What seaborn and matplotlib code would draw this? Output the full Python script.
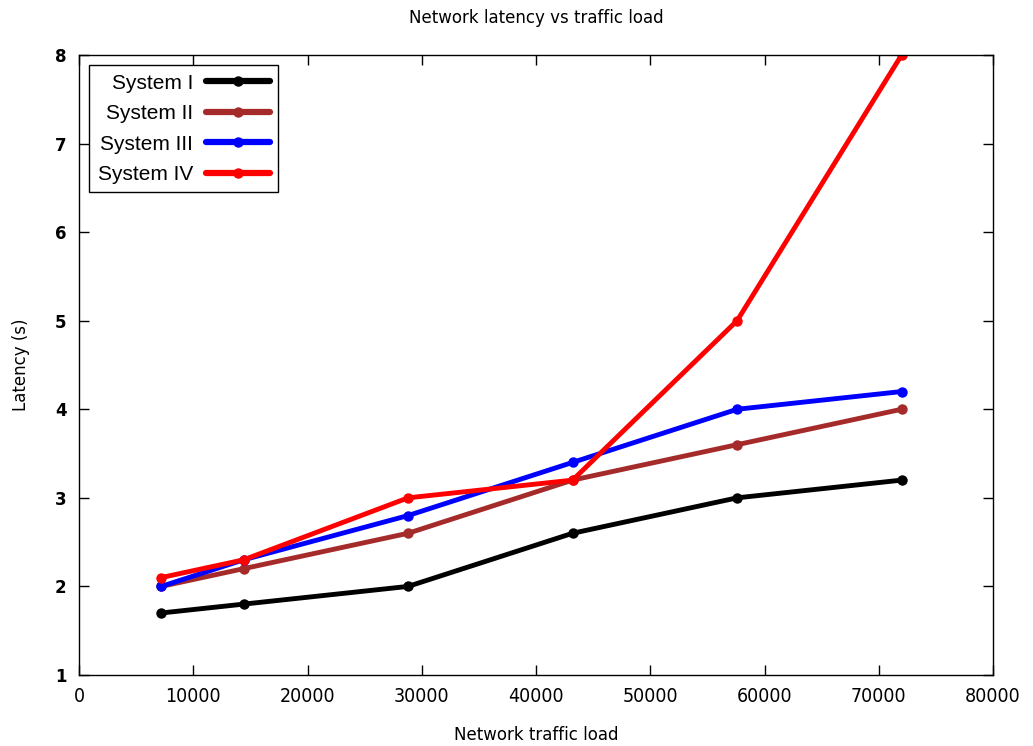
import matplotlib
matplotlib.use("Agg")
import matplotlib.pyplot as plt
import seaborn as sns
import pandas as pd

traffic = [7200, 14400, 28800, 43200, 57600, 72000]
system_1 = [1.7, 1.8, 2.0, 2.6, 3.0, 3.2]
system_2 = [2.0, 2.2, 2.6, 3.2, 3.6, 4.0]
system_3 = [2.0, 2.3, 2.8, 3.4, 4.0, 4.2]
system_4 = [2.1, 2.3, 3.0, 3.2, 5.0, 8.0]
series_names = ["System I", "System II", "System III", "System IV"]
series_colors = ["#000000", "#a52a2a", "#0000ff", "#ff0000"]
x_ticks = [0, 10000, 20000, 30000, 40000, 50000, 60000, 70000, 80000]
y_ticks = [1, 2, 3, 4, 5, 6, 7, 8]

sns.set_theme(style="ticks")
plt.rcParams['font.family'] = ['DejaVu Sans']
plt.rcParams['text.color'] = 'black'
plt.rcParams['axes.labelcolor'] = 'black'

rows = []
for name, vals in zip(series_names, [system_1, system_2, system_3, system_4]):
    for xv, yv in zip(traffic, vals):
        rows.append({"load": xv, "latency": yv, "system": name})
df = pd.DataFrame(rows)

fig = plt.figure(figsize=(10.33, 7.46), dpi=100)
ax = fig.add_axes([0.0765, 0.0952, 0.8848, 0.8311])

sns.lineplot(data=df, x="load", y="latency", hue="system", hue_order=series_names,
             palette=series_colors, marker="o", markersize=7.5, markeredgewidth=0,
             linewidth=3.5, ax=ax, sort=False)

ax.set_xlim(0, 80000)
ax.set_ylim(1, 8)
ax.set_xticks(x_ticks)
ax.set_yticks(y_ticks)
ax.set_xticklabels([str(v) for v in x_ticks], fontsize=14, fontstretch='condensed')
ax.set_yticklabels([str(v) for v in y_ticks], fontsize=12, fontweight='bold')
ax.tick_params(direction='in', length=7, width=1, top=True, right=True, colors='black', pad=9)
for s in ax.spines.values():
    s.set_color('black')
    s.set_linewidth(1)

ax.set_xlabel("Network traffic load", fontsize=12, labelpad=14)
ax.set_ylabel("Latency (s)", fontsize=12, labelpad=18)
fig.text(0.5195, 0.976, "Network latency vs traffic load", fontsize=12,
         ha='center', va='center')

leg = ax.legend(loc='upper left', markerfirst=False, fancybox=False, framealpha=1,
                edgecolor='black', prop={'family': 'Liberation Sans', 'size': 15},
                handlelength=3.1, handletextpad=0.6, labelspacing=0.55,
                borderaxespad=0.5, borderpad=0.4)
leg.get_frame().set_linewidth(1)
for col in leg._legend_handle_box.get_children():
    col.align = "right"
for line in leg.get_lines():
    line.set_linewidth(4.5)

fig.savefig("out.png", dpi=100)
